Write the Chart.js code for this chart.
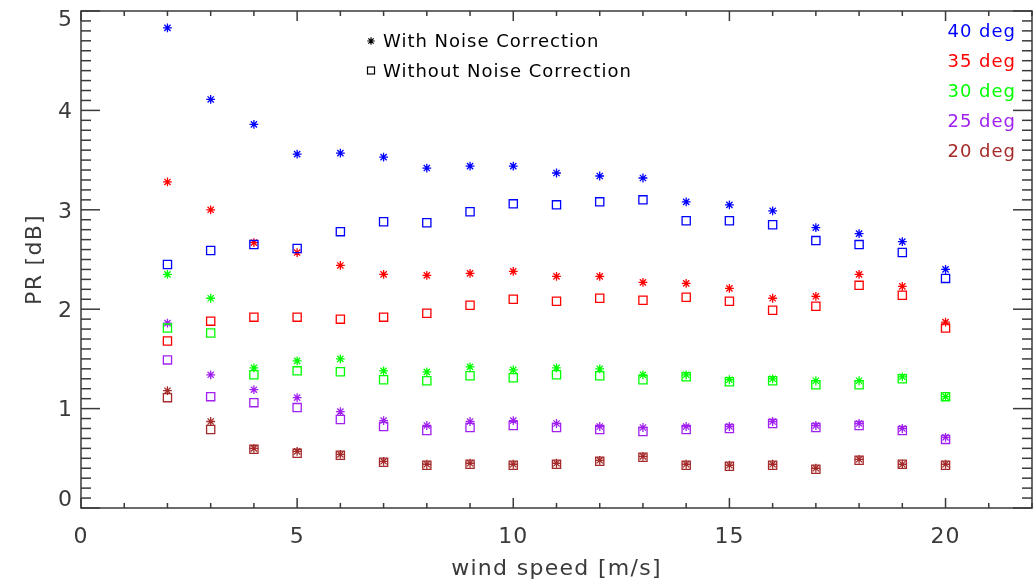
<!DOCTYPE html>
<html>
<head>
<meta charset="utf-8">
<title>PR vs wind speed</title>
<script src="https://cdn.jsdelivr.net/npm/chart.js@4.4.1/dist/chart.umd.min.js"></script>
<style>
  body { margin: 0; background: #fff; }
  canvas { display: block; }
</style>
</head>
<body>
<canvas id="prChart" width="1033" height="583"></canvas>
<script>
// wind speed bins [m/s]
const windSpeed = [2, 3, 4, 5, 6, 7, 8, 9, 10, 11, 12, 13, 14, 15, 16, 17, 18, 19, 20];

// PR [dB] per incidence angle, with / without noise correction
const with40    = [4.83, 4.11, 3.86, 3.56, 3.57, 3.53, 3.42, 3.44, 3.44, 3.37, 3.34, 3.32, 3.08, 3.05, 2.99, 2.82, 2.76, 2.68, 2.40];
const without40 = [2.45, 2.59, 2.65, 2.61, 2.78, 2.88, 2.87, 2.98, 3.06, 3.05, 3.08, 3.10, 2.89, 2.89, 2.85, 2.69, 2.65, 2.57, 2.31];
const with35    = [3.28, 3.00, 2.67, 2.57, 2.44, 2.35, 2.34, 2.36, 2.38, 2.33, 2.33, 2.27, 2.26, 2.21, 2.11, 2.13, 2.35, 2.23, 1.87];
const without35 = [1.68, 1.88, 1.92, 1.92, 1.90, 1.92, 1.96, 2.04, 2.10, 2.08, 2.11, 2.09, 2.12, 2.08, 1.99, 2.03, 2.24, 2.14, 1.81];
const with30    = [2.35, 2.11, 1.41, 1.48, 1.50, 1.38, 1.37, 1.42, 1.39, 1.41, 1.40, 1.34, 1.34, 1.29, 1.30, 1.28, 1.28, 1.32, 1.12];
const without30 = [1.81, 1.76, 1.34, 1.38, 1.37, 1.29, 1.28, 1.33, 1.31, 1.34, 1.33, 1.29, 1.32, 1.27, 1.28, 1.24, 1.24, 1.30, 1.12];
const with25    = [1.86, 1.34, 1.19, 1.11, 0.97, 0.88, 0.83, 0.87, 0.88, 0.85, 0.82, 0.81, 0.82, 0.82, 0.87, 0.83, 0.85, 0.80, 0.71];
const without25 = [1.49, 1.12, 1.06, 1.01, 0.89, 0.82, 0.78, 0.81, 0.83, 0.81, 0.79, 0.77, 0.79, 0.80, 0.85, 0.81, 0.83, 0.78, 0.69];
const with20    = [1.18, 0.87, 0.60, 0.57, 0.54, 0.47, 0.44, 0.45, 0.44, 0.45, 0.48, 0.52, 0.44, 0.43, 0.44, 0.40, 0.49, 0.44, 0.44];
const without20 = [1.11, 0.79, 0.59, 0.55, 0.53, 0.46, 0.43, 0.44, 0.43, 0.44, 0.47, 0.51, 0.43, 0.42, 0.43, 0.39, 0.48, 0.44, 0.43];

const angleLabels = ["40 deg", "35 deg", "30 deg", "25 deg", "20 deg"];
const withSeries = [with40, with35, with30, with25, with20];
const withoutSeries = [without40, without35, without30, without25, without20];

const xTickLabels = ["0", "5", "10", "15", "20"];
const yTickLabels = ["0", "1", "2", "3", "4", "5"];

const angleColors = ["#0000ff", "#ff0000", "#00ff00", "#a020f0", "#a52a2a"];
const axisColor = "#3a3a3a";

function toPoints(values) {
    return values.map((v, i) => ({ x: windSpeed[i], y: v }));
}

const datasets = [];
angleLabels.forEach((label, i) => {
    datasets.push({
        label: label + " with",
        data: toPoints(withSeries[i]),
        pointStyle: "star",
        pointRadius: 4.4,
        borderColor: angleColors[i],
        backgroundColor: angleColors[i],
        borderWidth: 1.3
    });
    datasets.push({
        label: label + " without",
        data: toPoints(withoutSeries[i]),
        pointStyle: "rect",
        pointRadius: 5.8,
        borderColor: angleColors[i],
        backgroundColor: "rgba(0,0,0,0)",
        borderWidth: 1.3
    });
});

function line(ctx, x1, y1, x2, y2) {
    ctx.beginPath();
    ctx.moveTo(x1, y1);
    ctx.lineTo(x2, y2);
    ctx.stroke();
}

// box, inward ticks on all four sides, labels and legends
const frameAndText = {
    id: "frameAndText",
    afterDraw(chart) {
        const { ctx, chartArea: a, scales: { x, y } } = chart;
        ctx.save();
        ctx.strokeStyle = axisColor;
        ctx.lineWidth = 1.5;
        ctx.strokeRect(a.left, a.top, a.right - a.left, a.bottom - a.top);

        for (let v = 0; v <= 50; v++) {
            const py = y.getPixelForValue(v / 10);
            const len = v % 10 === 0 ? 19 : 10;
            line(ctx, a.left, py, a.left + len, py);
            line(ctx, a.right, py, a.right - len, py);
        }
        for (let v = 0; v <= 22; v++) {
            const px = x.getPixelForValue(v);
            const len = v % 5 === 0 ? 10 : 5;
            line(ctx, px, a.bottom, px, a.bottom - len);
            line(ctx, px, a.top, px, a.top + len);
        }

        ctx.fillStyle = axisColor;
        ctx.font = "22px 'DejaVu Sans'";
        ctx.letterSpacing = "1px";
        ctx.textBaseline = "middle";

        ctx.textAlign = "right";
        yTickLabels.forEach(t => {
            const py = y.getPixelForValue(Number(t));
            const ty = Math.min(Math.max(py + 2, a.top + 9), a.bottom - 8);
            ctx.fillText(t, 73, ty);
        });

        ctx.textAlign = "center";
        xTickLabels.forEach(t => {
            ctx.fillText(t, x.getPixelForValue(Number(t)), 537);
        });

        ctx.letterSpacing = "1.3px";
        ctx.fillText("wind speed [m/s]", (a.left + a.right) / 2, 569);
        ctx.save();
        ctx.translate(35, (a.top + a.bottom) / 2);
        ctx.rotate(-Math.PI / 2);
        ctx.fillText("PR [dB]", 0, 0);
        ctx.restore();

        // incidence angle key
        ctx.font = "18px 'DejaVu Sans'";
        ctx.letterSpacing = "1px";
        ctx.textBaseline = "alphabetic";
        ctx.textAlign = "right";
        angleLabels.forEach((t, i) => {
            ctx.fillStyle = angleColors[i];
            ctx.fillText(t, 1016, 37 + i * 30);
        });

        // marker key
        ctx.fillStyle = "#000";
        ctx.textAlign = "left";
        ctx.fillText("With Noise Correction", 383, 47);
        ctx.fillText("Without Noise Correction", 383, 77);
        ctx.strokeStyle = "#000";
        ctx.lineWidth = 1.2;
        Chart.helpers.drawPoint(ctx, { pointStyle: "star", radius: 3.8, rotation: 0, borderWidth: 1.2 }, 371, 41);
        ctx.strokeRect(367.5, 67, 7, 7);
        ctx.restore();
    }
};

new Chart(document.getElementById("prChart"), {
    type: "scatter",
    data: { datasets: datasets },
    options: {
        responsive: false,
        animation: false,
        layout: { autoPadding: false, padding: { left: 81, top: 11, right: 1, bottom: 75 } },
        plugins: { legend: { display: false }, tooltip: { enabled: false } },
        scales: {
            x: { type: "linear", min: 0, max: 22, display: false },
            y: { type: "linear", min: 0, max: 5, display: false }
        }
    },
    plugins: [frameAndText]
});
</script>
</body>
</html>
